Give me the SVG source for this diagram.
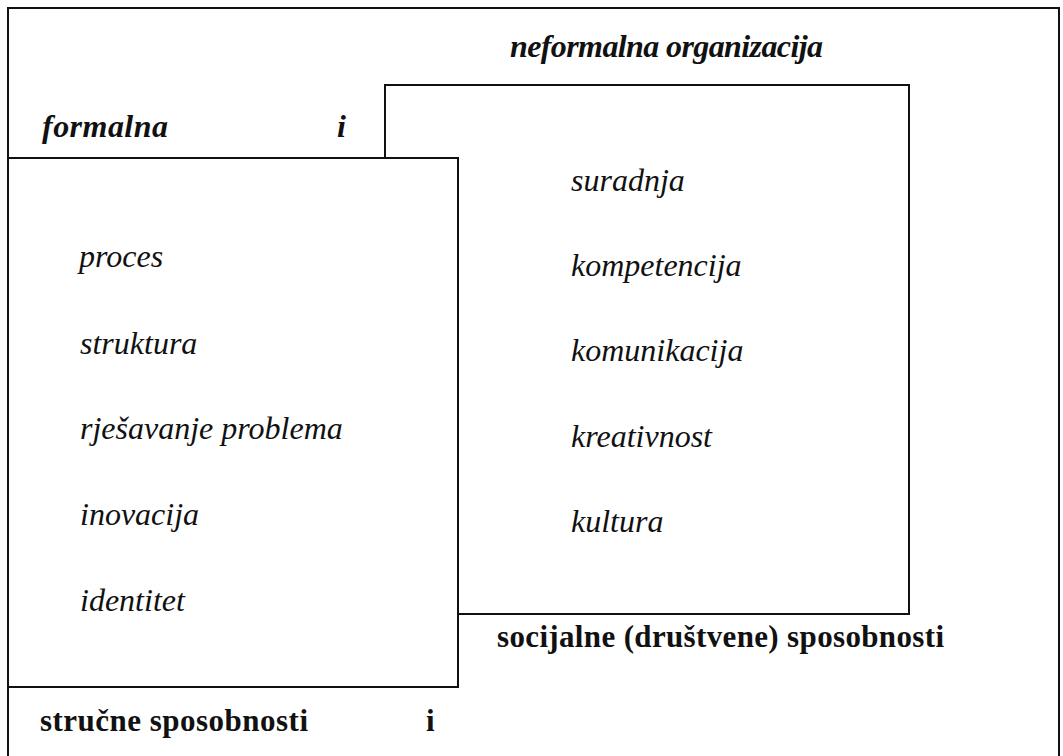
<svg xmlns="http://www.w3.org/2000/svg" width="1063" height="756" viewBox="0 0 1063 756">
<style>
.box{fill:#fff;stroke:#111;stroke-width:2}
.it{font-family:"Liberation Serif","Times New Roman",serif;font-style:italic;font-size:32px;fill:#111}
.bi{font-family:"Liberation Serif","Times New Roman",serif;font-style:italic;font-weight:bold;font-size:32px;fill:#111}
.b{font-family:"Liberation Serif","Times New Roman",serif;font-weight:bold;font-size:31px;fill:#111}
</style>
<rect width="1063" height="756" fill="#fff"/>
<g id="frame">
<polyline points="8,760 8,8 1059,8 1059,760" fill="none" stroke="#111" stroke-width="2"/>
<text class="bi" x="510" y="57" textLength="313" lengthAdjust="spacing">neformalna organizacija</text>
<text class="bi" x="42" y="137" textLength="126" lengthAdjust="spacing">formalna</text>
<text class="bi" x="337" y="137">i</text>
<text class="b" x="40" y="731" textLength="268" lengthAdjust="spacing">stručne sposobnosti</text>
<text class="b" x="426" y="731">i</text>
<text class="b" x="497" y="647" textLength="447" lengthAdjust="spacing">socijalne (društvene) sposobnosti</text>
</g>
<g id="neformalna">
<rect class="box" x="385" y="85" width="524" height="529"/>
<text class="it" x="571" y="191">suradnja</text>
<text class="it" x="571" y="276">kompetencija</text>
<text class="it" x="571" y="361">komunikacija</text>
<text class="it" x="571" y="447">kreativnost</text>
<text class="it" x="571" y="532">kultura</text>
</g>
<g id="formalna">
<rect class="box" x="8" y="158" width="450" height="529"/>
<text class="it" x="79" y="267">proces</text>
<text class="it" x="80" y="354">struktura</text>
<text class="it" x="80" y="439">rješavanje problema</text>
<text class="it" x="80" y="525">inovacija</text>
<text class="it" x="80" y="611">identitet</text>
</g>
<g id="connectors"></g>
</svg>
